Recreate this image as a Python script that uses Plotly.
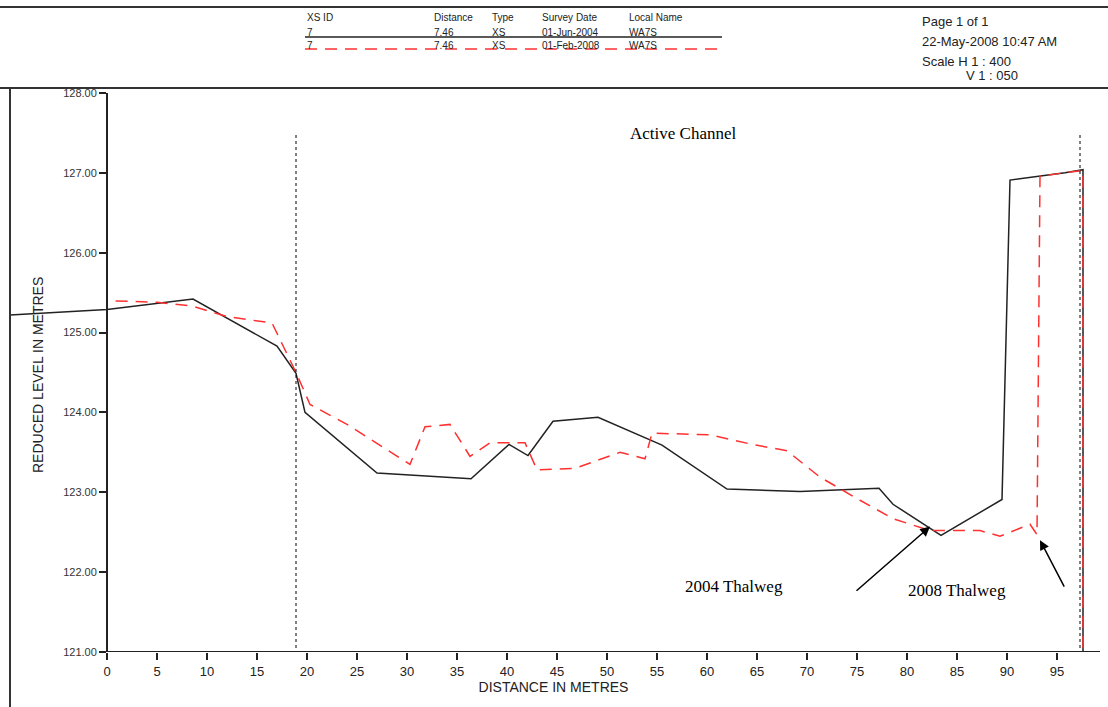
import plotly.graph_objects as go

# 2004 survey (solid black)
x2004 = [-9.7, 0, 8.6, 17.0, 18.9, 19.8, 27.0, 36.4, 40.2, 42.1, 44.6, 49.1, 55.5, 62.0, 69.3, 77.2, 78.6, 83.4, 89.5, 90.3, 95.8, 97.6, 97.6]
y2004 = [125.22, 125.29, 125.42, 124.83, 124.49, 124.0, 123.24, 123.17, 123.6, 123.46, 123.89, 123.94, 123.59, 123.04, 123.01, 123.05, 122.85, 122.46, 122.91, 126.91, 127.0, 127.04, 121.0]
# 2008 survey (red dashed)
x2008 = [0, 0, 5, 8.6, 12, 16.5, 18.9, 20.3, 24, 30.3, 31.8, 34.3, 36.3, 38.3, 41.8, 43.0, 46.8, 51.3, 53.8, 54.5, 60.3, 64.5, 68.0, 71.3, 75.3, 78.6, 82.3, 87.3, 89.3, 92.3, 93.0, 93.3, 97.6, 97.6]
y2008 = [121.0, 125.4, 125.38, 125.33, 125.2, 125.12, 124.5, 124.1, 123.85, 123.35, 123.82, 123.85, 123.45, 123.62, 123.62, 123.28, 123.3, 123.5, 123.42, 123.74, 123.72, 123.6, 123.52, 123.19, 122.9, 122.67, 122.52, 122.52, 122.45, 122.6, 122.47, 126.96, 127.03, 121.0]

y_ticks = [121, 122, 123, 124, 125, 126, 127, 128]
x_ticks = list(range(0, 100, 5))
channel_edges = [18.9, 97.3]

W, H = 1108, 707
L, R, T, B = 7, 8, 93, 55
XMIN, XMAX = -10, 99.3

def px(xp):
    return (xp - L) / (W - L - R)

def py(yp):
    return (H - B - yp) / (H - T - B)

fig = go.Figure()
fig.add_trace(go.Scatter(x=x2004, y=y2004, mode="lines", line=dict(color="#222", width=1.5), cliponaxis=False))
fig.add_trace(go.Scatter(x=x2008, y=y2008, mode="lines", line=dict(color="#ff3030", width=1.5, dash="12px,8px"), cliponaxis=False))

for xe in channel_edges:
    fig.add_shape(type="line", x0=xe, x1=xe, y0=121.05, y1=127.5, line=dict(color="black", width=1, dash="dot"))

# bottom axis line
fig.add_shape(type="line", x0=0, x1=XMAX, y0=121, y1=121, line=dict(color="#222", width=2))

# page frame
ser = dict(family="Liberation Serif", size=17, color="black")
for yp in [7, 88]:
    fig.add_shape(type="line", xref="paper", yref="paper", x0=px(0), x1=px(W), y0=py(yp), y1=py(yp), line=dict(color="#333", width=2))
fig.add_shape(type="line", xref="paper", yref="paper", x0=px(10), x1=px(10), y0=py(88), y1=py(H), line=dict(color="#333", width=2))

# header legend
fig.add_shape(type="line", xref="paper", yref="paper", x0=px(305), x1=px(722), y0=py(37), y1=py(37), line=dict(color="#222", width=1.5))
fig.add_shape(type="line", xref="paper", yref="paper", x0=px(305), x1=px(722), y0=py(49), y1=py(49), line=dict(color="#ff3030", width=1.5, dash="12px,8px"))
small = dict(family="Liberation Sans", size=10, color="#222")
cols = [305, 420, 490, 540, 627]
rows = [["XS ID", "Distance", "Type", "Survey Date", "Local Name"],
        ["7", "7.46", "XS", "01-Jun-2004", "WA7S"],
        ["7", "7.46", "XS", "01-Feb-2008", "WA7S"]]
offs = [0, 12, 0, 0, 0]
for r, yp in zip(rows, [17, 32, 45]):
    for c, t, o in zip(cols, r, offs):
        fig.add_annotation(xref="paper", yref="paper", x=px(c + o), y=py(yp), text=t, showarrow=False, xanchor="left", yanchor="middle", font=small)

info = dict(family="Liberation Sans", size=13, color="#222")
for t, xp, yp in [("Page 1 of 1", 920, 22), ("22-May-2008 10:47 AM", 920, 42), ("Scale H 1 : 400", 920, 61), ("V 1 : 050", 964, 75)]:
    fig.add_annotation(xref="paper", yref="paper", x=px(xp), y=py(yp), text=t, showarrow=False, xanchor="left", yanchor="middle", font=info)

fig.add_annotation(x=57.6, y=127.49, text="Active Channel", showarrow=False, font=ser)
fig.add_annotation(x=82.3, y=122.57, ax=74.8, ay=121.75, axref="x", ayref="y", text="", showarrow=True, arrowhead=2, arrowsize=1.3, arrowwidth=1.5, arrowcolor="black")
fig.add_annotation(xref="paper", yref="paper", x=px(785), y=py(598), text="2004 Thalweg", showarrow=False, font=ser)
fig.add_annotation(xref="paper", yref="paper", x=px(1008), y=py(602), text="2008 Thalweg", showarrow=False, font=ser)
fig.add_annotation(x=93.3, y=122.4, ax=95.8, ay=121.8, axref="x", ayref="y", text="", showarrow=True, arrowhead=2, arrowsize=1.3, arrowwidth=1.5, arrowcolor="black")

fig.update_layout(
    width=W, height=H, margin=dict(l=L, r=R, t=T, b=B, autoexpand=False),
    plot_bgcolor="white", paper_bgcolor="white", showlegend=False,
    xaxis=dict(range=[XMIN, XMAX], tickvals=x_ticks, ticks="outside", ticklen=7, tickwidth=2, tickcolor="#222", automargin=False,
               showgrid=False, zeroline=False, showline=False, tickfont=dict(family="Liberation Sans", size=13, color="#222"),
               title=dict(text="DISTANCE IN METRES", font=dict(family="Liberation Sans", size=14, color="#222"), standoff=2)),
    yaxis=dict(range=[121, 128], tickvals=y_ticks, tickformat=".2f", ticks="outside", ticklen=7, tickwidth=2, tickcolor="#222",
               anchor="free", position=10 / (XMAX - XMIN), showline=True, linecolor="#222", linewidth=2, automargin=False,
               showgrid=False, zeroline=False, tickfont=dict(family="Liberation Sans", size=11, color="#333")),
)
fig.add_annotation(xref="paper", yref="paper", x=px(28), y=py(375), text="REDUCED LEVEL IN METRES", textangle=-90, showarrow=False,
                   font=dict(family="Liberation Sans", size=14, color="#222"))
fig.write_html("out.html", config={"displayModeBar": False}, post_script="document.body.style.margin='0';")
